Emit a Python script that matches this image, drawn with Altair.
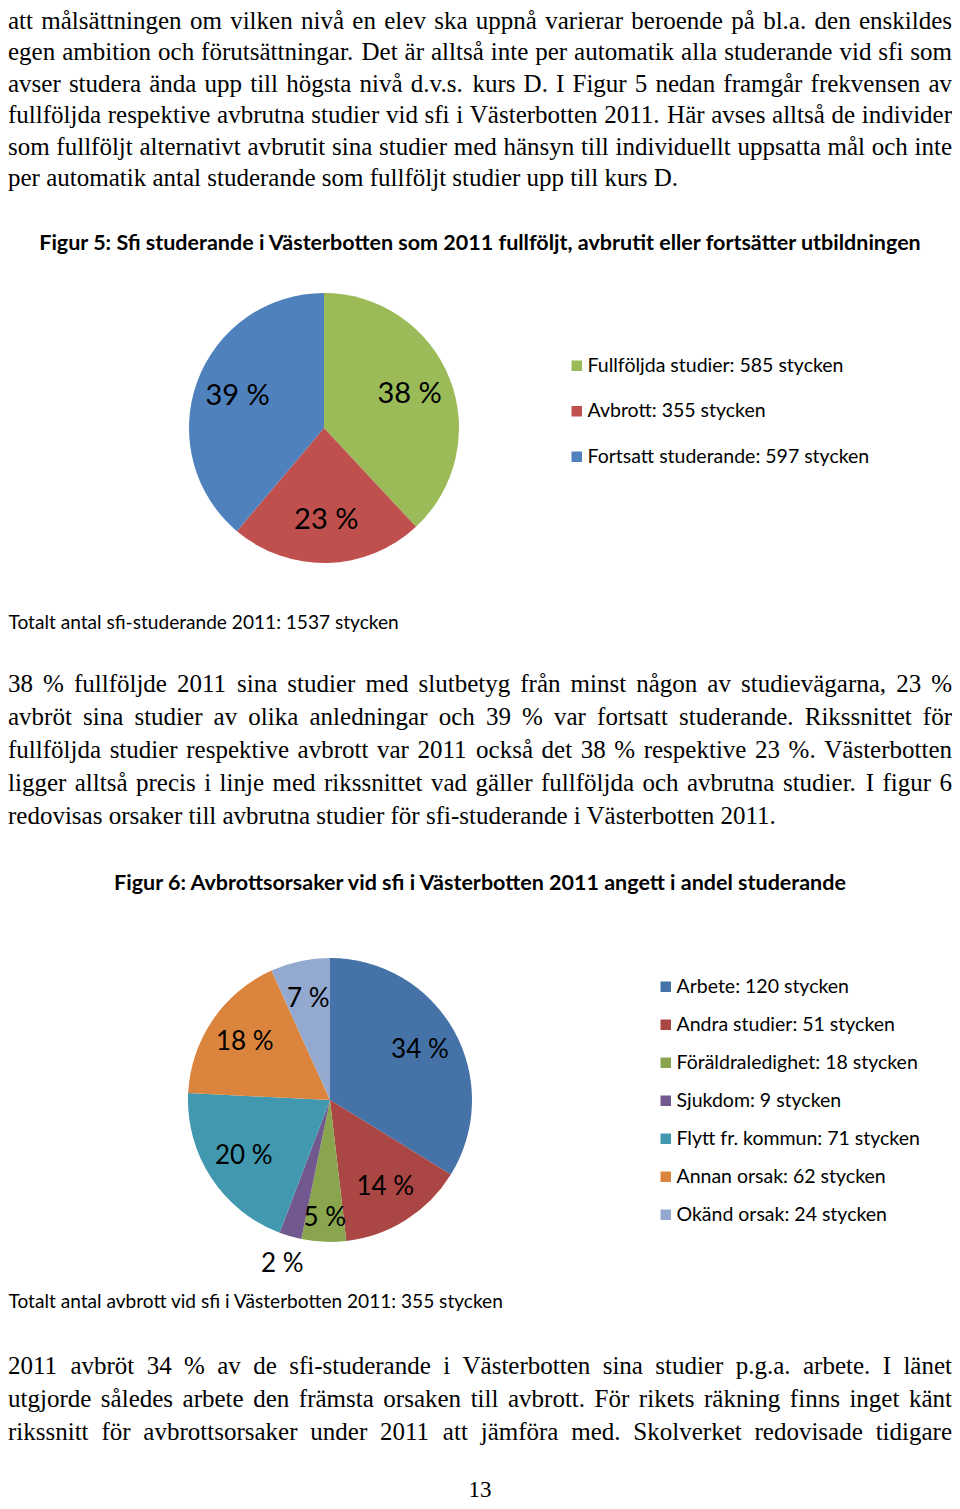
import altair as alt
import pandas as pd

# ------------------------------------------------------------------ data
fig5_categories = ["Fullföljda studier", "Avbrott", "Fortsatt studerande"]
fig5_counts = [585, 355, 597]
fig5_pct_labels = ["38 %", "23 %", "39 %"]
fig5_colors = ["#9BBB59", "#C0504D", "#4F81BD"]

fig6_categories = ["Arbete", "Andra studier", "Föräldraledighet", "Sjukdom",
                   "Flytt fr. kommun", "Annan orsak", "Okänd orsak"]
fig6_counts = [120, 51, 18, 9, 71, 62, 24]
fig6_pct_labels = ["34 %", "14 %", "5 %", "2 %", "20 %", "18 %", "7 %"]
fig6_colors = ["#4572A7", "#AA4643", "#89A54E", "#71588F", "#4198AF", "#DB843D", "#93A9CF"]

para1 = [
    "att målsättningen om vilken nivå en elev ska uppnå varierar beroende på bl.a. den enskildes",
    "egen ambition och förutsättningar. Det är alltså inte per automatik alla studerande vid sfi som",
    "avser studera ända upp till högsta nivå d.v.s. kurs D. I Figur 5 nedan framgår frekvensen av",
    "fullföljda respektive avbrutna studier vid sfi i Västerbotten 2011. Här avses alltså de individer",
    "som fullföljt alternativt avbrutit sina studier med hänsyn till individuellt uppsatta mål och inte",
    "per automatik antal studerande som fullföljt studier upp till kurs D.",
]
para2 = [
    "38 % fullföljde 2011 sina studier med slutbetyg från minst någon av studievägarna, 23 %",
    "avbröt sina studier av olika anledningar och 39 % var fortsatt studerande. Rikssnittet för",
    "fullföljda studier respektive avbrott var 2011 också det 38 % respektive 23 %. Västerbotten",
    "ligger alltså precis i linje med rikssnittet vad gäller fullföljda och avbrutna studier. I figur 6",
    "redovisas orsaker till avbrutna studier för sfi-studerande i Västerbotten 2011.",
]
para3 = [
    "2011 avbröt 34 % av de sfi-studerande i Västerbotten sina studier p.g.a. arbete. I länet",
    "utgjorde således arbete den främsta orsaken till avbrott. För rikets räkning finns inget känt",
    "rikssnitt för avbrottsorsaker under 2011 att jämföra med. Skolverket redovisade tidigare",
]
fig5_title = "Figur 5: Sfi studerande i Västerbotten som 2011 fullföljt, avbrutit eller fortsätter utbildningen"
fig5_caption = "Totalt antal sfi-studerande 2011: 1537 stycken"
fig6_title = "Figur 6: Avbrottsorsaker vid sfi i Västerbotten 2011 angett i andel studerande"
fig6_caption = "Totalt antal avbrott vid sfi i Västerbotten 2011: 355 stycken"
page_number = "13"

# ------------------------------------------------------------------ layout
W, H = 944, 1493
OX, OY = 8, 8


def px(x):
    return x - OX


def py(y):
    return y - OY


SERIF = "Liberation Serif"
SANS = "Lato"
BODY_FS = 25

# Times metrics (units per 1000 em) for word-by-word justification
TIMES = {" ": 250, "%": 833, ",": 250, "-": 333, ".": 250, ":": 278, "/": 278,
         "A": 722, "B": 667, "C": 667, "D": 722, "E": 611, "F": 556, "G": 722, "H": 722,
         "I": 333, "J": 389, "K": 722, "L": 611, "M": 889, "N": 722, "O": 722, "P": 556,
         "Q": 722, "R": 667, "S": 556, "T": 611, "U": 722, "V": 722, "W": 944, "X": 722,
         "Y": 722, "Z": 611, "Å": 722, "Ä": 722, "Ö": 722,
         "a": 444, "b": 500, "c": 444, "d": 500, "e": 444, "f": 333, "g": 500, "h": 500,
         "i": 278, "j": 278, "k": 500, "l": 278, "m": 778, "n": 500, "o": 500, "p": 500,
         "q": 500, "r": 333, "s": 389, "t": 278, "u": 500, "v": 500, "w": 722, "x": 500,
         "y": 500, "z": 444, "å": 444, "ä": 444, "ö": 500, "é": 444}
for d in "0123456789":
    TIMES[d] = 500


def tw(s, fs):
    return sum(TIMES.get(c, 500) for c in s) * fs / 1000.0


def para_rows(lines, base_first, base_last, fs, x0, x1, justify_last=False):
    left, right = [], []
    n = len(lines)
    dy = (base_last - base_first) / (n - 1) if n > 1 else 0
    for i, line in enumerate(lines):
        y = py(base_first + i * dy)
        words = line.split()
        if i == n - 1 and not justify_last:
            left.append({"text": line, "x": x0, "y": y})
            continue
        widths = [tw(w, fs) for w in words]
        gap = (x1 - x0 - sum(widths)) / (len(words) - 1)
        x = x0
        for j, (w, wd) in enumerate(zip(words, widths)):
            if j == len(words) - 1:
                right.append({"text": w, "x": x1, "y": y})
            else:
                left.append({"text": w, "x": x, "y": y})
            x += wd + gap
    return left, right


X0, X1 = 0, W
rows_l, rows_r = [], []
for lines, b0, b1, jl in [(para1, 28.5, 186, False), (para2, 692, 824, False),
                          (para3, 1374, 1440, True)]:
    l, r = para_rows(lines, b0, b1, BODY_FS, X0, X1, jl)
    rows_l += l
    rows_r += r


def text_layer(rows, **mark):
    return alt.Chart(pd.DataFrame(rows)).mark_text(color="black", **mark).encode(
        x=alt.X("x:Q", scale=None, axis=None),
        y=alt.Y("y:Q", scale=None, axis=None),
        text="text:N",
    )


body_left = text_layer(rows_l, align="left", baseline="alphabetic", font=SERIF, fontSize=BODY_FS)
body_right = text_layer(rows_r, align="right", baseline="alphabetic", font=SERIF, fontSize=BODY_FS)

titles = text_layer(
    [{"text": fig5_title, "x": px(480), "y": py(244)},
     {"text": fig6_title, "x": px(480), "y": py(884)}],
    align="center", baseline="middle", font=SANS, fontSize=21.5, fontWeight="bold")
captions = text_layer(
    [{"text": fig5_caption, "x": 0.5, "y": py(623)},
     {"text": fig6_caption, "x": 0.5, "y": py(1302)}],
    align="left", baseline="middle", font=SANS, fontSize=19.1)
page = text_layer([{"text": page_number, "x": px(480), "y": py(1497)}],
                  align="center", baseline="alphabetic", font=SERIF, fontSize=23)


# ------------------------------------------------------------------ pies
def pie(categories, counts, pct_labels, colors, cx, cy, r, label_font, leg_x, leg_y, row_pad,
        radius_expr):
    df = pd.DataFrame({"cat": categories, "n": counts, "pct": pct_labels})
    df["order"] = range(len(df))
    df["legend"] = df["cat"] + ": " + df["n"].astype(str) + " stycken"
    total = sum(counts)
    arcs = alt.Chart(df).mark_arc(radius=r).encode(
        theta=alt.Theta("n:Q", stack=True),
        order=alt.Order("order:Q"),
        x=alt.value(px(cx)),
        y=alt.value(py(cy)),
        color=alt.Color(
            "legend:N",
            scale=alt.Scale(domain=list(df["legend"]), range=colors),
            legend=alt.Legend(
                title=None, orient="none", direction="vertical",
                legendX=px(leg_x), legendY=py(leg_y),
                symbolType="square", symbolSize=110, symbolStrokeWidth=0,
                symbolOpacity=1, labelFont=SANS, labelFontSize=19.5, labelColor="black",
                rowPadding=row_pad, labelOffset=1, padding=0, labelLimit=600,
            ),
        ),
    )
    labels = alt.Chart(df).transform_window(
        cum="sum(n)", sort=[alt.SortField("order")], frame=[None, 0]
    ).transform_calculate(
        mid="datum.cum - datum.n / 2",
        share=f"datum.n / {total}",
        lr=radius_expr,
    ).mark_text(font=SANS, fontSize=label_font, color="black",
                baseline="middle", align="center").encode(
        theta=alt.Theta("mid:Q", stack=None, scale=alt.Scale(domain=[0, total])),
        radius=alt.Radius("lr:Q", scale=None),
        x=alt.value(px(cx)),
        y=alt.value(py(cy)),
        text="pct:N",
    )
    return arcs, labels


arcs5, labels5 = pie(fig5_categories, fig5_counts, fig5_pct_labels, fig5_colors,
                     324, 428, 135, 29, 567, 356, 24.5, "92")
arcs6, labels6 = pie(fig6_categories, fig6_counts, fig6_pct_labels, fig6_colors,
                     330, 1100, 142, 26, 656, 977, 17,
                     "datum.share < 0.03 ? 171 : (datum.share < 0.06 ? 118 : 103)")

chart = alt.layer(
    body_left, body_right, titles, captions, page,
    arcs5, labels5, arcs6, labels6,
).resolve_scale(
    theta="independent", color="independent", radius="independent"
).properties(
    width=W, height=H, padding=0,
    autosize=alt.AutoSizeParams(type="none"),
    background="white",
).configure_view(stroke=None)

chart.save("out.html", embed_options={"renderer": "svg", "actions": False})
